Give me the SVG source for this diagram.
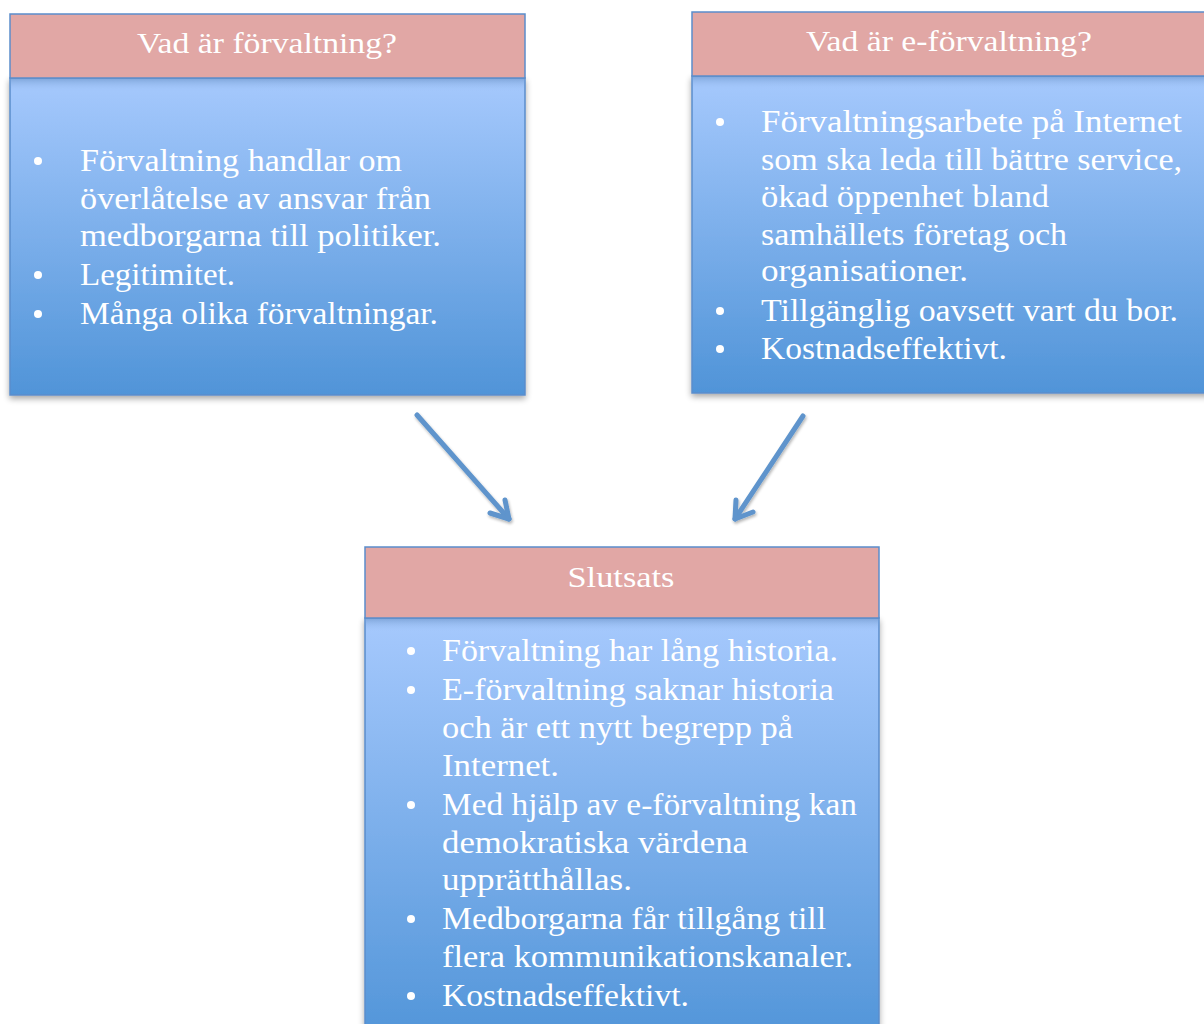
<svg xmlns="http://www.w3.org/2000/svg" width="1204" height="1024" viewBox="0 0 1204 1024">
<style>
.hdr{fill:#E1A7A5;stroke:#5B8DCB;stroke-width:1.5}
.body{fill:url(#bg);stroke:#5B8DCB;stroke-width:1.5}
.band{fill:url(#band)}
.t{font-family:"Liberation Serif","DejaVu Serif",serif;font-size:31px;fill:#ffffff}
.h{font-family:"Liberation Serif","DejaVu Serif",serif;font-size:29px;fill:#ffffff;text-anchor:middle}
.b{fill:#ffffff}
.conn{stroke:#5E94CC;stroke-width:5;fill:none;stroke-linecap:round;stroke-linejoin:round}
</style>
<defs>
<linearGradient id="bg" x1="0" y1="0" x2="0" y2="1">
<stop offset="0" stop-color="#A6C9FD"/>
<stop offset="1" stop-color="#5094D8"/>
</linearGradient>
<linearGradient id="band" x1="0" y1="0" x2="0" y2="1">
<stop offset="0" stop-color="#6C94C8" stop-opacity="0.7"/>
<stop offset="1" stop-color="#A6C9FD" stop-opacity="0"/>
</linearGradient>
<filter id="sh" x="-10%" y="-10%" width="120%" height="120%">
<feGaussianBlur in="SourceAlpha" stdDeviation="3"/>
<feOffset dx="0" dy="3" result="o"/>
<feComponentTransfer><feFuncA type="linear" slope="0.35"/></feComponentTransfer>
<feMerge><feMergeNode/><feMergeNode in="SourceGraphic"/></feMerge>
</filter>
<filter id="ash" x="-20%" y="-20%" width="140%" height="140%">
<feGaussianBlur in="SourceAlpha" stdDeviation="1.5"/>
<feOffset dx="1" dy="2"/>
<feComponentTransfer><feFuncA type="linear" slope="0.3"/></feComponentTransfer>
<feMerge><feMergeNode/><feMergeNode in="SourceGraphic"/></feMerge>
</filter>
</defs>
<rect width="1204" height="1024" fill="#ffffff"/>

<g id="node-forvaltning">
<g filter="url(#sh)">
<rect class="body" x="10" y="78" width="515" height="317"/>
</g>
<rect class="band" x="11" y="78" width="513" height="14"/>
<rect class="hdr" x="10" y="14" width="515" height="64"/>
<text class="h" x="267" y="53" textLength="260" lengthAdjust="spacingAndGlyphs">Vad är förvaltning?</text>
<circle class="b" cx="38" cy="161" r="4"/>
<circle class="b" cx="38" cy="275" r="4"/>
<circle class="b" cx="38" cy="314" r="4"/>
<text class="t" x="80" y="171" textLength="322" lengthAdjust="spacingAndGlyphs">Förvaltning handlar om</text>
<text class="t" x="80" y="209" textLength="351" lengthAdjust="spacingAndGlyphs">överlåtelse av ansvar från</text>
<text class="t" x="80" y="246" textLength="361" lengthAdjust="spacingAndGlyphs">medborgarna till politiker.</text>
<text class="t" x="80" y="285" textLength="155" lengthAdjust="spacingAndGlyphs">Legitimitet.</text>
<text class="t" x="80" y="324" textLength="358" lengthAdjust="spacingAndGlyphs">Många olika förvaltningar.</text>
</g>

<g id="node-e-forvaltning">
<g filter="url(#sh)">
<rect class="body" x="692" y="76" width="530" height="317"/>
</g>
<rect class="band" x="693" y="76" width="530" height="14"/>
<rect class="hdr" x="692" y="12" width="530" height="64"/>
<text class="h" x="949" y="51" textLength="286" lengthAdjust="spacingAndGlyphs">Vad är e-förvaltning?</text>
<circle class="b" cx="720" cy="122" r="4"/>
<circle class="b" cx="720" cy="311" r="4"/>
<circle class="b" cx="720" cy="349" r="4"/>
<text class="t" x="761" y="132" textLength="421" lengthAdjust="spacingAndGlyphs">Förvaltningsarbete på Internet</text>
<text class="t" x="761" y="170" textLength="421" lengthAdjust="spacingAndGlyphs">som ska leda till bättre service,</text>
<text class="t" x="761" y="207" textLength="288" lengthAdjust="spacingAndGlyphs">ökad öppenhet bland</text>
<text class="t" x="761" y="245" textLength="306" lengthAdjust="spacingAndGlyphs">samhällets företag och</text>
<text class="t" x="761" y="281" textLength="207" lengthAdjust="spacingAndGlyphs">organisationer.</text>
<text class="t" x="761" y="321" textLength="417" lengthAdjust="spacingAndGlyphs">Tillgänglig oavsett vart du bor.</text>
<text class="t" x="761" y="359" textLength="246" lengthAdjust="spacingAndGlyphs">Kostnadseffektivt.</text>
</g>

<g id="node-slutsats">
<g filter="url(#sh)">
<rect class="body" x="365" y="618" width="514" height="430"/>
</g>
<rect class="band" x="366" y="618" width="512" height="14"/>
<rect class="hdr" x="365" y="547" width="514" height="71"/>
<text class="h" x="621" y="587" textLength="107" lengthAdjust="spacingAndGlyphs">Slutsats</text>
<circle class="b" cx="411" cy="651" r="4"/>
<circle class="b" cx="411" cy="690" r="4"/>
<circle class="b" cx="411" cy="805" r="4"/>
<circle class="b" cx="411" cy="919" r="4"/>
<circle class="b" cx="411" cy="996" r="4"/>
<text class="t" x="442" y="661" textLength="396" lengthAdjust="spacingAndGlyphs">Förvaltning har lång historia.</text>
<text class="t" x="442" y="700" textLength="392" lengthAdjust="spacingAndGlyphs">E-förvaltning saknar historia</text>
<text class="t" x="442" y="738" textLength="351" lengthAdjust="spacingAndGlyphs">och är ett nytt begrepp på</text>
<text class="t" x="442" y="776" textLength="117" lengthAdjust="spacingAndGlyphs">Internet.</text>
<text class="t" x="442" y="815" textLength="415" lengthAdjust="spacingAndGlyphs">Med hjälp av e-förvaltning kan</text>
<text class="t" x="442" y="853" textLength="306" lengthAdjust="spacingAndGlyphs">demokratiska värdena</text>
<text class="t" x="442" y="890" textLength="190" lengthAdjust="spacingAndGlyphs">upprätthållas.</text>
<text class="t" x="442" y="929" textLength="384" lengthAdjust="spacingAndGlyphs">Medborgarna får tillgång till</text>
<text class="t" x="442" y="967" textLength="411" lengthAdjust="spacingAndGlyphs">flera kommunikationskanaler.</text>
<text class="t" x="442" y="1006" textLength="247" lengthAdjust="spacingAndGlyphs">Kostnadseffektivt.</text>
</g>

<g id="connectors" filter="url(#ash)">
<path class="conn" d="M417,415 L509,519"/>
<path class="conn" d="M505,500 L509,519 L490,513"/>
<path class="conn" d="M803,416 L735,519"/>
<path class="conn" d="M736,500 L735,519 L753,512"/>
</g>
</svg>
